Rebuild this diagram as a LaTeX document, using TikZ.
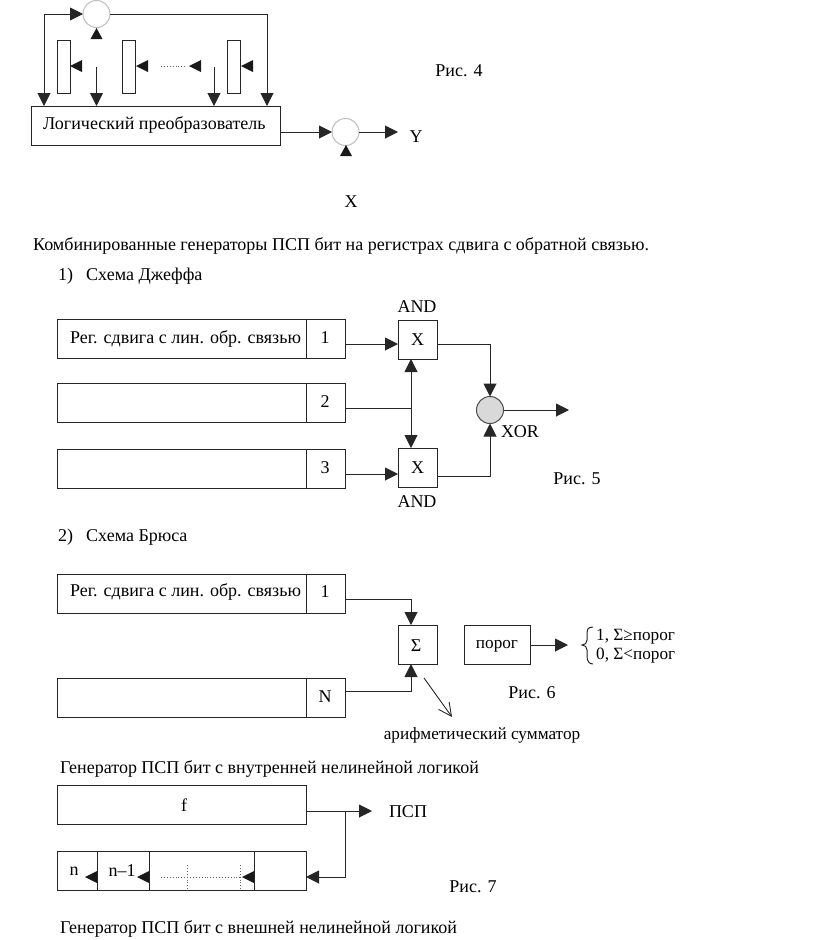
\documentclass[tikz,border=0pt]{standalone}
\usepackage{fontspec}
\setmainfont{Liberation Serif}
\usetikzlibrary{arrows.meta}

\tikzset{
    boite/.style={draw=black!85,line width=1pt,inner sep=0pt,outer sep=0pt,minimum width=39,minimum height=39},
    rond/.style={circle,draw=black!25,line width=1pt,fill=white,inner sep=0pt,outer sep=0pt,minimum size=27},
    fleche/.style={draw=black!85,line width=1pt,-{Triangle[length=13pt,width=13pt]}},
    trait/.style={draw=black!85,line width=1pt},
    pointille/.style={draw=black!60,line width=0.9pt,dotted},
    texte/.style={inner sep=0pt,font=\fontsize{18}{20}\selectfont},
    petit/.style={inner sep=0pt,font=\fontsize{17.2}{19}\selectfont},
}
\def\TriG(#1,#2){\fill[black!90] (#1,#2)--++(12,-6)--++(0,12)--cycle;}
\def\TriH(#1,#2){\fill[black!90] (#1,#2)--++(-6,11)--++(12,0)--cycle;}

\begin{document}
\begin{tikzpicture}[x=1pt,y=-1pt]
\useasboundingbox (0,0) rectangle (816,940);

%Рис. 4
\node[rond] (som) at (96.5,14) {};
\node[rond] (sortie) at (345.5,132) {};
\node[boite,minimum width=249,anchor=north west] (logique) at (31,106) {};
\node[texte,anchor=west] (tlogique) at (43,125) {Логический преобразователь};
\foreach \x/\nom in {57/a,122/b,227/c}{
    \node[boite,minimum width=13,minimum height=53,anchor=north west] (cell\nom) at (\x,40) {};
}
\coordinate (g1) at (44,106);
\coordinate (g2) at (44,14);
\coordinate (d1) at (267,106);
\coordinate (h1) at (96.5,67);
\coordinate (h2) at (96.5,106);
\coordinate (k1) at (214,67);
\coordinate (k2) at (214,106);
\coordinate (y1) at (398,132);
\coordinate (sl) at (280,132);
\draw[fleche] (g2)--(g1);
\draw[fleche] (g2)--(som.west);
\draw[fleche] (som.east)-|(d1);
\draw[fleche] (h1)--(h2);
\draw[fleche] (k1)--(k2);
\draw[fleche] (sl)--(sortie.west);
\draw[fleche] (sortie.east)--(y1);
\TriH(96.5,28)
\TriH(346,145)
\TriG(70,66) \TriG(136,66) \TriG(189,66) \TriG(241,66)
\draw[pointille] (161,66)--(187,66);
\node[texte] (ty) at (416,137) {Y};
\node[texte] (tx) at (351,202) {X};
\node[texte] (ric4) at (459,71) {Рис. 4};

\node[texte,anchor=west] (comb) at (33,246) {Комбинированные генераторы ПСП бит на регистрах сдвига с обратной связью.};
\node[texte,anchor=west] (n1) at (58,276) {1)};
\node[texte,anchor=west] (sch1) at (86,276) {Схема Джеффа};

%Рис. 5
\foreach \y/\nom/\txt in {319/1/1,383/2/2,449/3/3}{
    \node[boite,minimum width=249,anchor=north west] (reg\nom) at (57,\y) {};
    \node[boite,anchor=north west] (num\nom) at (306,\y) {};
    \node[texte] (tnum\nom) at (325,\y+19) {\txt};
}
\node[texte] (treg) at (185.5,339) {Рег. сдвига с лин. обр. связью};
\node[boite] (et1) at (417.5,339.5) {};
\node[boite] (et2) at (417.5,467.5) {};
\node[texte] at (et1) {X};
\node[texte] at (et2) {X};
\node[texte] (tand1) at (417,307) {AND};
\node[texte] (tand2) at (417,502) {AND};
\node[rond,fill=black!15,draw=black!70] (xor) at (490,410) {};
\node[texte] (txor) at (520,432) {XOR};
\coordinate (a1) at (345,344);
\coordinate (a2) at (398,344);
\coordinate (a3) at (437,344);
\coordinate (b1) at (345,408);
\coordinate (b2) at (411,408);
\coordinate (b3) at (411,359);
\coordinate (b4) at (411,448);
\coordinate (c1) at (345,474);
\coordinate (c2) at (398,474);
\coordinate (c3) at (437,476);
\coordinate (xs) at (569,410);
\draw[fleche] (a1)--(a2);
\draw[fleche] (a3)-|(xor.north);
\draw[trait] (b1)--(b2);
\draw[fleche,{Triangle[length=13pt,width=13pt]}-{Triangle[length=13pt,width=13pt]}] (b3)--(b4);
\draw[fleche] (c1)--(c2);
\draw[fleche] (c3)-|(xor.south);
\draw[fleche] (xor.east)--(xs);
\node[texte] (ric5) at (577,479) {Рис. 5};

\node[texte,anchor=west] (n2) at (58,537) {2)};
\node[texte,anchor=west] (sch2) at (86,537) {Схема Брюса};

%Рис. 6
\node[boite,minimum width=249,anchor=north west] (regA) at (57,574) {};
\node[boite,anchor=north west] (numA) at (306,574) {};
\node[boite,minimum width=249,anchor=north west] (regN) at (57,678) {};
\node[boite,anchor=north west] (numN) at (306,678) {};
\node[texte] (tregA) at (185.5,592) {Рег. сдвига с лин. обр. связью};
\node[texte] (tnumA) at (325,592) {1};
\node[texte] (tnumN) at (325,697) {N};
\node[boite,anchor=north west] (sigma) at (398,625) {};
\node[texte] at (416,646) {Σ};
\node[boite,minimum width=66,anchor=north west] (seuil) at (464,625) {};
\node[petit] at (497,646) {порог};
\coordinate (e1) at (345,599);
\coordinate (e2) at (411,625);
\coordinate (f1) at (345,691);
\coordinate (f2) at (411,664);
\coordinate (s1) at (530,645);
\coordinate (s2) at (568,645);
\coordinate (m1) at (424,678);
\coordinate (m2) at (452,717);
\draw[fleche] (e1)-|(e2);
\draw[fleche] (f1)-|(f2);
\draw[fleche] (s1)--(s2);
\draw[draw=black!85,line width=0.9pt,-{Straight Barb[length=13pt,width=13pt]}] (m1)--(m2);
\draw[trait] (593,627) .. controls (587,627) and (587,630) .. (587,636) -- (587,640) .. controls (587,643) and (585,645) .. (582,645) .. controls (585,645) and (587,647) .. (587,650) -- (587,656) .. controls (587,661) and (589,664) .. (593,664);
\node[petit,anchor=west] (v1) at (596,637) {1, Σ≥порог};
\node[petit,anchor=west] (v0) at (596,656) {0, Σ<порог};
\node[petit] (somm) at (482,735) {арифметический сумматор};
\node[texte] (ric6) at (532,693) {Рис. 6};

\node[texte,anchor=west] (gen1) at (60,769) {Генератор ПСП бит с внутренней нелинейной логикой};

%Рис. 7
\node[boite,minimum width=249,anchor=north west] (fbox) at (57,785) {};
\node[texte] (tf) at (184,805) {f};
\node[boite,minimum width=249,anchor=north west] (bas) at (57,851) {};
\foreach \x in {97,149,254}{
    \draw[trait] (\x,851)--(\x,890);
}
\node[texte] (tn) at (74,871) {n};
\node[texte] (tn1) at (122,871) {n–1};
\TriG(85,877) \TriG(137,877) \TriG(242,877)
\draw[pointille] (161,877)--(242,877);
\draw[pointille] (187,865)--(187,890);
\draw[pointille] (240,865)--(240,890);
\coordinate (p1) at (306,811);
\coordinate (p2) at (372,811);
\coordinate (p3) at (345,811);
\coordinate (p4) at (306,877);
\draw[fleche] (p1)--(p2);
\draw[fleche] (p3)|-(p4);
\node[texte] (tpsp) at (408,812) {ПСП};
\node[texte] (ric7) at (473,887) {Рис. 7};

\node[texte,anchor=west] (gen2) at (60,929) {Генератор ПСП бит с внешней нелинейной логикой};

\end{tikzpicture}
\end{document}
